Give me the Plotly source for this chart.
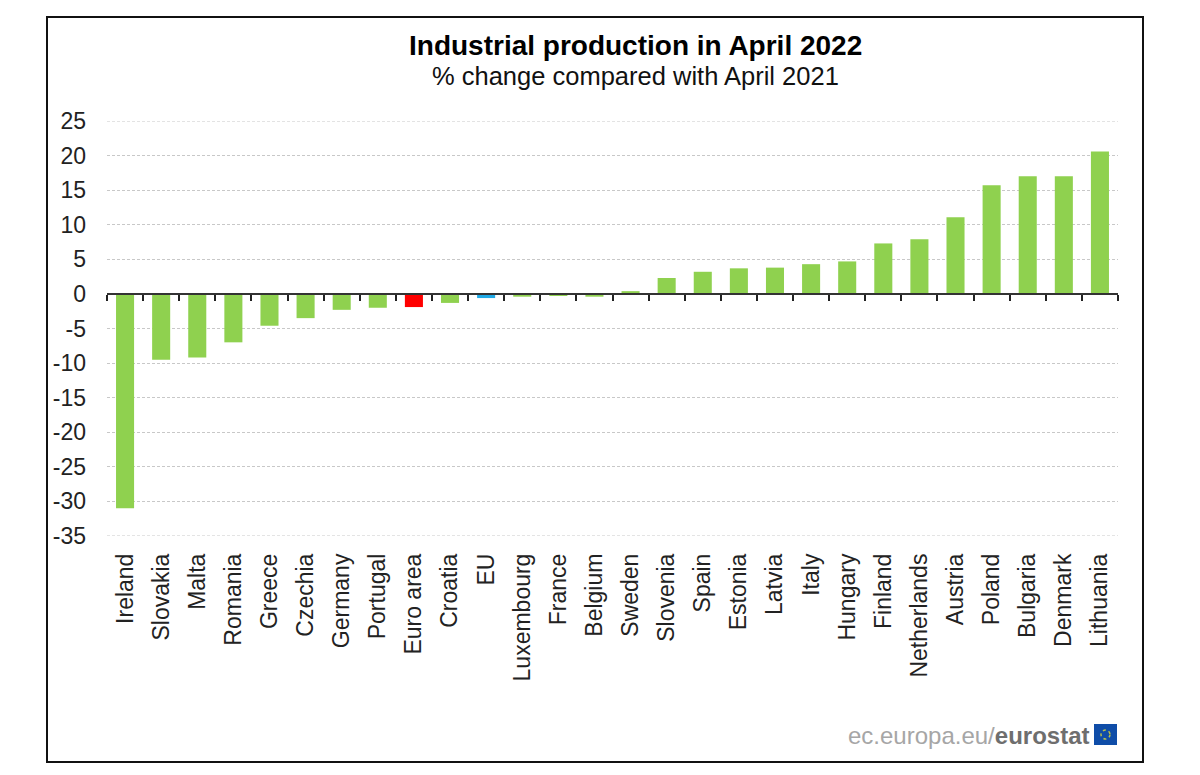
import plotly.graph_objects as go

categories = ["Ireland", "Slovakia", "Malta", "Romania", "Greece", "Czechia", "Germany", "Portugal",
              "Euro area", "Croatia", "EU", "Luxembourg", "France", "Belgium", "Sweden", "Slovenia",
              "Spain", "Estonia", "Latvia", "Italy", "Hungary", "Finland", "Netherlands", "Austria",
              "Poland", "Bulgaria", "Denmark", "Lithuania"]
values = [-31.0, -9.5, -9.2, -7.0, -4.6, -3.5, -2.3, -2.0,
          -1.9, -1.3, -0.6, -0.4, -0.3, -0.4, 0.4, 2.3,
          3.2, 3.7, 3.8, 4.3, 4.7, 7.3, 7.9, 11.1,
          15.7, 17.0, 17.0, 20.6]
GREEN, RED, BLUE = "#8fd14f", "#ff0000", "#1fa9e6"
highlight = {"Euro area": RED, "EU": BLUE}
colors = [highlight.get(c, GREEN) for c in categories]
y_ticks = list(range(-35, 30, 5))
y_labels = [str(v) for v in y_ticks]
title = "Industrial production in April 2022"
subtitle = "% change compared with April 2021"
FONT = "Liberation Sans, Arial, sans-serif"

W, H = 1200, 775
L, R, T, B = 107, 1118, 121, 536
px = lambda x: (x - L) / (R - L)
py = lambda y: (B - y) / (B - T)

fig = go.Figure()
fig.add_trace(go.Bar(x=categories, y=values, marker=dict(color=colors, line_width=0),
                     width=0.5, showlegend=False, hoverinfo="x+y"))
fig.add_trace(go.Bar(x=categories, y=values, xaxis="x2", opacity=0, width=0.5,
                     showlegend=False, hoverinfo="skip"))

grid_line = dict(color="#c8c8c8", width=1, dash="3px,2px")
shapes = [
    dict(type="rect", xref="paper", yref="paper", x0=px(47), x1=px(1143), y0=py(762), y1=py(17),
         line=dict(color="#111111", width=2), fillcolor="rgba(0,0,0,0)", layer="below"),
    dict(type="rect", xref="paper", yref="paper", x0=px(1094), x1=px(1117), y0=py(745), y1=py(724),
         line_width=0, fillcolor="#0f4da8"),
    dict(type="circle", xref="paper", yref="paper", x0=px(1101), x1=px(1110), y0=py(739), y1=py(730),
         line=dict(color="#b9c04a", width=1.5, dash="dot"), fillcolor="rgba(0,0,0,0)"),
    # the outermost gridlines sit on the plot edge, where Plotly omits them
    dict(type="line", xref="paper", yref="y", x0=0, x1=1, y0=y_ticks[-1], y1=y_ticks[-1],
         line=grid_line, layer="below"),
    dict(type="line", xref="paper", yref="y", x0=0, x1=1, y0=y_ticks[0], y1=y_ticks[0],
         line=grid_line, layer="below"),
]

annotations = [
    dict(text=f"<b>{title}</b>", xref="paper", yref="paper", x=px(635), y=py(46), showarrow=False,
         xanchor="center", yanchor="middle", font=dict(family=FONT, size=28, color="#000000")),
    dict(text=subtitle, xref="paper", yref="paper", x=px(635), y=py(76), showarrow=False,
         xanchor="center", yanchor="middle", font=dict(family=FONT, size=25.5, color="#111111")),
    dict(text='<span style="color:#a6a6a6">ec.europa.eu/</span><b>eurostat</b>', xref="paper", yref="paper",
         x=px(1091), y=py(735), showarrow=False, xanchor="right", yanchor="middle",
         font=dict(family=FONT, size=24, color="#6e6e6e")),
]

fig.update_layout(
    width=W, height=H, autosize=False,
    margin=dict(l=L, r=W - R, t=T, b=H - B, pad=0),
    paper_bgcolor="white", plot_bgcolor="white",
    bargap=0.5, barmode="overlay",
    shapes=shapes, annotations=annotations,
    font=dict(family=FONT, size=23, color="#222222"),
    xaxis=dict(type="category", categoryorder="array", categoryarray=categories,
               range=[-0.5, 27.5], tickmode="array", tickvals=categories, ticktext=categories,
               tickangle=-90, ticks="", showline=False, showgrid=False,
               ticklabelstandoff=12, tickfont=dict(family=FONT, size=23, color="#222222")),
    xaxis2=dict(type="category", categoryorder="array", categoryarray=categories,
                range=[-0.5, 27.5], overlaying="x", anchor="free", position=py(294), side="bottom",
                showticklabels=False, ticks="outside", ticklen=6, tickwidth=2, tickcolor="#222222",
                tickson="boundaries", showline=True, linecolor="#333333", linewidth=2, showgrid=False),
    yaxis=dict(range=[-35, 25], tickmode="array", tickvals=y_ticks, ticktext=y_labels, ticks="",
               showgrid=True, gridcolor="#c8c8c8", griddash="3px,2px", gridwidth=1,
               zeroline=False, showline=False, ticklabelstandoff=20,
               tickfont=dict(family=FONT, size=23, color="#222222")),
)
fig.write_html("out.html", config={"displayModeBar": False},
               post_script="document.body.style.margin='0';")
